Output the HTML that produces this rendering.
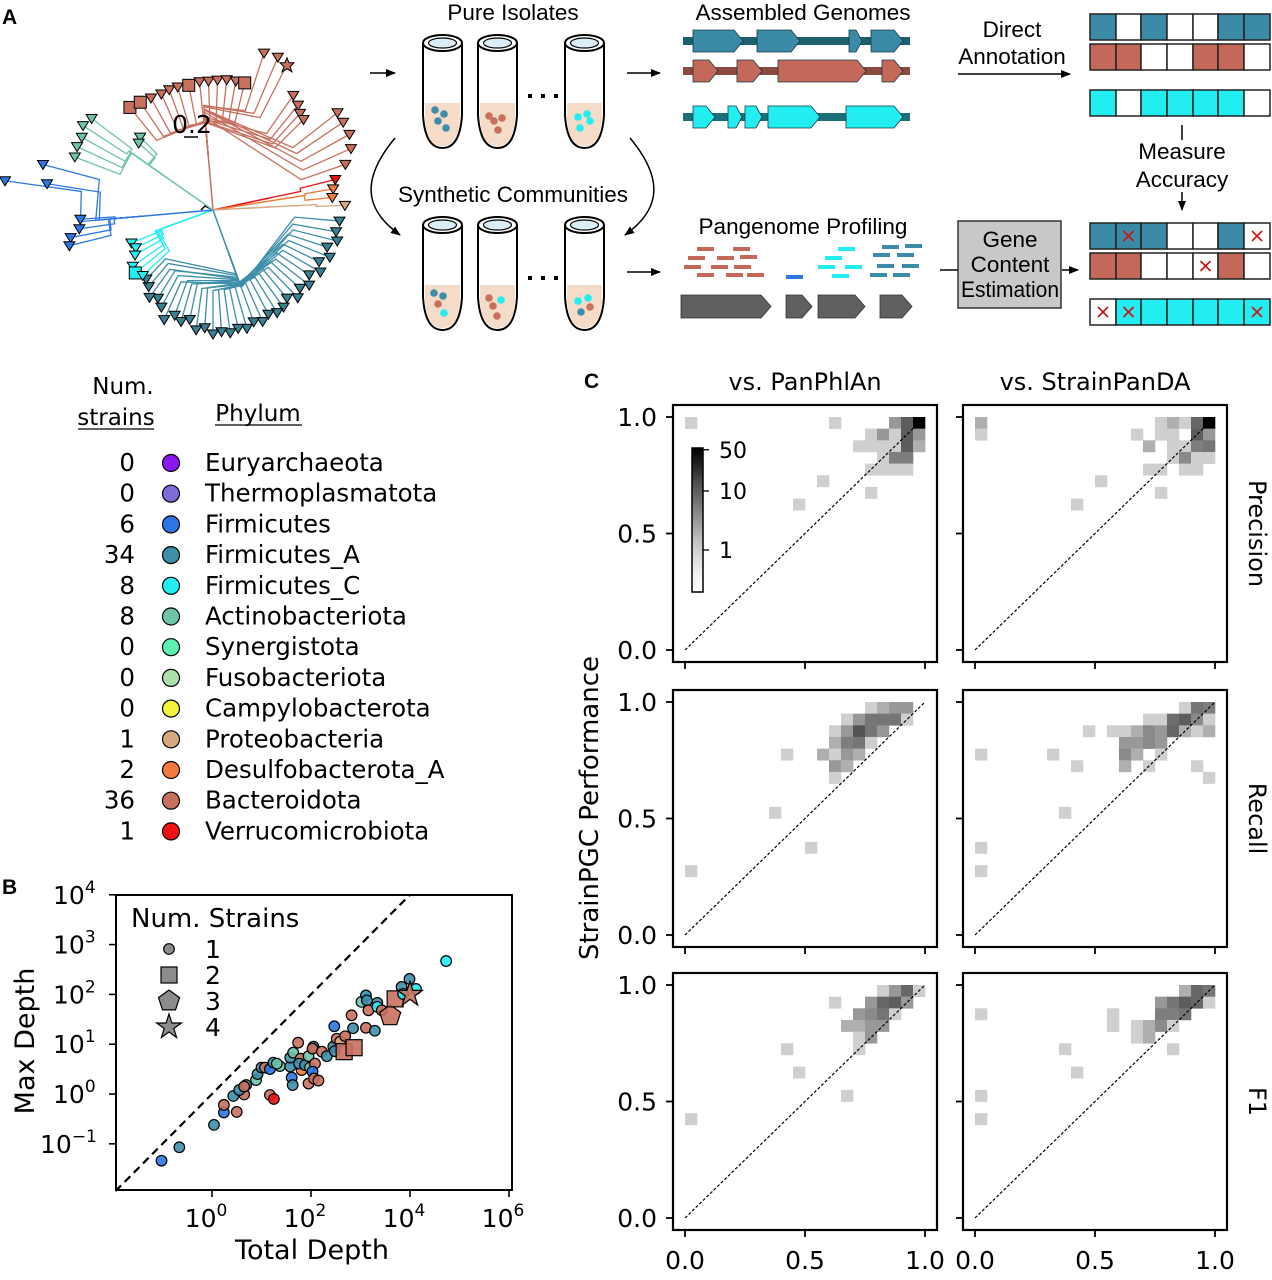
<!DOCTYPE html>
<html><head><meta charset="utf-8">
<style>
html,body{margin:0;padding:0;background:#fff;}
svg{display:block;}
.sa{font-family:"Liberation Sans",sans-serif;}
.dv{font-family:"DejaVu Sans","Liberation Sans",sans-serif;}
</style></head>
<body>
<svg id="fig" width="1272" height="1280" viewBox="0 0 1272 1280" xmlns="http://www.w3.org/2000/svg">
<defs>
<marker id="ah" markerWidth="10" markerHeight="8" refX="9" refY="4" orient="auto" markerUnits="userSpaceOnUse"><path d="M0,0 L10,4 L0,8 Z" fill="#000"/></marker>
<linearGradient id="cbg" x1="0" y1="1" x2="0" y2="0">
<stop offset="0" stop-color="#ffffff"/><stop offset="0.125" stop-color="#f0f0f0"/><stop offset="0.25" stop-color="#d9d9d9"/><stop offset="0.375" stop-color="#bdbdbd"/><stop offset="0.5" stop-color="#969696"/><stop offset="0.625" stop-color="#737373"/><stop offset="0.75" stop-color="#525252"/><stop offset="0.875" stop-color="#252525"/><stop offset="1" stop-color="#000000"/>
</linearGradient>
</defs>

<text x="2" y="24" class="sa" font-size="21" font-weight="bold">A</text>
<text x="2" y="894" class="sa" font-size="21" font-weight="bold">B</text>
<text x="584" y="388" class="sa" font-size="21" font-weight="bold">C</text>

<g id="tree"></g>
<g>
<text x="192" y="133" class="dv" font-size="25" text-anchor="middle">0.2</text>
<line x1="184" y1="137" x2="198" y2="137" stroke="#000" stroke-width="1.5"/>
</g>

<g class="sa" font-size="22.5">
<text x="513" y="20" text-anchor="middle">Pure Isolates</text>
<text x="513" y="202" text-anchor="middle">Synthetic Communities</text>
<text x="803" y="20" text-anchor="middle">Assembled Genomes</text>
<text x="803" y="234" text-anchor="middle">Pangenome Profiling</text>
<text x="1012" y="37" text-anchor="middle">Direct</text>
<text x="1012" y="64" text-anchor="middle">Annotation</text>
<text x="1182" y="159" text-anchor="middle">Measure</text>
<text x="1182" y="187" text-anchor="middle">Accuracy</text>
<line x1="370" y1="73" x2="395" y2="73" stroke="#000" stroke-width="1.5" marker-end="url(#ah)"/>
<line x1="627" y1="73" x2="660" y2="73" stroke="#000" stroke-width="1.5" marker-end="url(#ah)"/>
<line x1="627" y1="272" x2="660" y2="272" stroke="#000" stroke-width="1.5" marker-end="url(#ah)"/>
<line x1="958" y1="74" x2="1070" y2="74" stroke="#000" stroke-width="1.5" marker-end="url(#ah)"/>
<line x1="1182" y1="125" x2="1182" y2="140" stroke="#000" stroke-width="1.5"/>
<line x1="1182" y1="192" x2="1182" y2="210" stroke="#000" stroke-width="1.5" marker-end="url(#ah)"/>
<line x1="1062" y1="270" x2="1078" y2="270" stroke="#000" stroke-width="1.5" marker-end="url(#ah)"/>
<line x1="940" y1="270" x2="958" y2="270" stroke="#000" stroke-width="1.5"/>
<path d="M395,138 C360,180 365,210 400,235" fill="none" stroke="#000" stroke-width="1.5" marker-end="url(#ah)"/>
<path d="M630,138 C665,180 660,210 625,235" fill="none" stroke="#000" stroke-width="1.5" marker-end="url(#ah)"/>
<rect x="958" y="221" width="103" height="87" fill="#c8c8c8" stroke="#333" stroke-width="1.5"/>
<text x="1010" y="247" text-anchor="middle">Gene</text>
<text x="1010" y="272" text-anchor="middle">Content</text>
<text x="1010" y="297" text-anchor="middle" textLength="98" lengthAdjust="spacingAndGlyphs">Estimation</text>
</g>
<g id="schem"></g>

<g id="legend" class="dv">
<text x="123" y="394" font-size="23" text-anchor="middle">Num.</text>
<text x="116" y="425" font-size="23" text-anchor="middle">strains</text>
<line x1="78" y1="429" x2="154" y2="429" stroke="#000" stroke-width="1.2"/>
<text x="258" y="421" font-size="23" text-anchor="middle">Phylum</text>
<line x1="215" y1="425" x2="302" y2="425" stroke="#000" stroke-width="1.2"/>
</g>

<g id="panelB" class="dv"></g>
<g id="panelC" class="dv"></g>
</svg>

<script>
const NS="http://www.w3.org/2000/svg";
function mk(parent,tag,attrs,text){const e=document.createElementNS(NS,tag);for(const k in attrs)e.setAttribute(k,attrs[k]);if(text!==undefined)e.textContent=text;parent.appendChild(e);return e;}

const phylumNames=["Euryarchaeota","Thermoplasmatota","Firmicutes","Firmicutes_A","Firmicutes_C","Actinobacteriota","Synergistota","Fusobacteriota","Campylobacterota","Proteobacteria","Desulfobacterota_A","Bacteroidota","Verrucomicrobiota"];
const phylumCounts=[0,0,6,34,8,8,0,0,0,1,2,36,1];
const phylumColors=["#8a18f0","#7c6cd8","#2e76e6","#3d8ea8","#22eef2","#6ec3a8","#5ef0b0","#aee0ae","#f2f23a","#d6a880","#f27a3c","#c8705e","#f01212"];
(function(){
const g=document.getElementById('legend');
for(let i=0;i<phylumNames.length;i++){
 const y=463+30.7*i;
 const row=mk(g,'g',{});
 
 
 mk(row,'text',{x:135,y:y+8,'font-size':24.5,'text-anchor':'end'},String(phylumCounts[i]));
 mk(row,'circle',{cx:171,cy:y,r:8.5,fill:phylumColors[i],stroke:'#000','stroke-width':1.2});
 mk(row,'text',{x:205,y:y+8,'font-size':24.5},phylumNames[i]);
}
})();

const treeCenter=[213,210];
const treeClades=[
 {c:"#c8705e",node:[-95,55],leaves:[[-129,132],[-124,130],[-119,128],[-114,127],[-110,128],[-106,128],[-101,127],[-96,129],[-92,129],[-88,130],[-84,131],[-80,131],[-76,131],[-72,165],[-67,166],[-63,163],[-55,140],[-51,135],[-48,130],[-45,128],[-38,158],[-34,157],[-29,156],[-24,151],[-19,140]],sh:{0:'sq',1:'sq',6:'sq',12:'sq',15:'star'}},
 {c:"#e81010",node:[-12,60],leaves:[[-14,126]]},
 {c:"#f07a3c",node:[-9,70],leaves:[[-10,122],[-6,120]]},
 {c:"#d6a880",node:[-3,80],leaves:[[-2,132]]},
 {c:"#3d8ea8",node:[70,45],leaves:[[5,127],[10,125],[14,128],[18,120],[22,126],[26,118],[30,124],[34,116],[38,122],[42,117],[46,122],[50,115],[54,120],[58,121],[62,118],[66,122],[70,119],[74,123],[78,121],[82,124],[86,122],[90,124],[94,118],[98,121],[102,112],[106,116],[110,112],[114,120],[118,110],[122,104],[126,108],[130,100],[134,96]]},
 {c:"#22eef2",node:[160,30],leaves:[[158,88],[154,86],[150,90],[145,98],[141,100],[137,96]],sh:{4:'sq'}},
 {c:"#2e76e6",node:[175,70],leaves:[[-172,210],[-165,176],[-171,168],[176,133],[172,135],[169,145],[166,148]]},
 {c:"#6ec3a8",node:[-145,60],leaves:[[-143,152],[-147,155],[-151,150],[-155,150],[-159,148],[-135,103],[-138,100]]}
];
(function(){
const g=document.getElementById('tree');const [cx,cy]=treeCenter;const rad=Math.PI/180;
mk(g,'path',{d:`M${cx},${cy} l-8,-4 l-4,4`,stroke:'#000',fill:'none','stroke-width':1.5});
treeClades.forEach(cl=>{
 const na=cl.node[0]*rad, nr=cl.node[1];
 const nx=cx+nr*Math.cos(na), ny=cy+nr*Math.sin(na);
 mk(g,'line',{x1:cx,y1:cy,x2:nx,y2:ny,stroke:cl.c,'stroke-width':1.5});
 cl.leaves.forEach((lf,k)=>{
  const a=lf[0]*rad, r=lf[1];
  const mr=nr+(r-nr)*0.45;
  const mx=cx+mr*Math.cos(na), my=cy+mr*Math.sin(na);
  const lx=cx+r*Math.cos(a), ly=cy+r*Math.sin(a);
  const jx=cx+mr*Math.cos(a), jy=cy+mr*Math.sin(a);
  mk(g,'polyline',{points:`${nx},${ny} ${mx},${my} ${jx},${jy} ${lx},${ly}`,fill:'none',stroke:cl.c,'stroke-width':1.3});
  const s=(cl.sh&&cl.sh[k])||'tri';
  const mc = cl.c==="#3d8ea8"?"#3a8090":cl.c;
  let m;
  if(s==='sq') m=mk(g,'rect',{x:lx-6,y:ly-6,width:12,height:12,fill:mc,stroke:'#000','stroke-width':1});
  else if(s==='star') m=mk(g,'path',{d:`M${lx},${ly-7} L${lx+2},${ly-2} L${lx+7},${ly-2} L${lx+3},${ly+2} L${lx+5},${ly+7} L${lx},${ly+4} L${lx-5},${ly+7} L${lx-3},${ly+2} L${lx-7},${ly-2} L${lx-2},${ly-2}Z`,fill:mc,stroke:'#000','stroke-width':1});
  else m=mk(g,'path',{d:`M${lx-5.5},${ly-4} L${lx+5.5},${ly-4} L${lx},${ly+5} Z`,fill:mc,stroke:'#000','stroke-width':1});
  
  
 });
});
})();

(function(){
const g=document.getElementById('schem');
const tubeX=[423,478,565];
const tubeDots=[
 [["#3d8ea8",435,110],["#3d8ea8",444,114],["#3d8ea8",438,121],["#3d8ea8",446,128]],
 [["#c8705e",489,116],["#c8705e",502,118],["#c8705e",494,121],["#c8705e",498,130]],
 [["#22eef2",578,117],["#22eef2",587,114],["#22eef2",590,121],["#22eef2",580,128]]];
const tubeDots2=[
 [["#3d8ea8",434,293],["#3d8ea8",443,296],["#c8705e",438,304],["#22eef2",444,313]],
 [["#c8705e",489,298],["#22eef2",501,300],["#c8705e",493,306],["#c8705e",497,316]],
 [["#22eef2",578,301],["#22eef2",588,298],["#c8705e",590,307],["#3d8ea8",581,312]]];
[[35,tubeDots],[217,tubeDots2]].forEach(([top,dots],row)=>{
 tubeX.forEach((x0,i)=>{
  const x1=x0+39, xc=x0+19.5, bot=top+113;
  const t=mk(g,'g',{});
  
  
  mk(t,'path',{d:`M${x0+2},${top+68} L${x1-2},${top+68} L${x1-2},${top+82} Q${x1-3},${bot-2} ${xc},${bot-2} Q${x0+3},${bot-2} ${x0+2},${top+82}Z`,fill:'#f5dcc8'});
  mk(t,'path',{d:`M${x0},${top+8} L${x0},${top+80} Q${x0+2},${bot} ${xc},${bot} Q${x1-2},${bot} ${x1},${top+80} L${x1},${top+8}`,fill:'none',stroke:'#000','stroke-width':2});
  mk(t,'ellipse',{cx:xc,cy:top+8,rx:19.5,ry:8,fill:'#fff',stroke:'#000','stroke-width':2});
  mk(t,'ellipse',{cx:xc,cy:top+8,rx:14,ry:5,fill:'#dbeef8',stroke:'#000','stroke-width':1.2});
  dots[i].forEach(d=>mk(t,'circle',{cx:d[1],cy:d[2],r:3.8,fill:d[0]}));
 });
 [530,543,556].forEach(x=>mk(g,'rect',{x:x-2,y:top+59,width:4,height:4,fill:'#000'}));
});
const tracks=[
 {y:41,fill:"#3a8aa8",line:"#1e5f70",genes:[[693,743],[757,800],[849,862],[871,903]]},
 {y:71,fill:"#c4685a",line:"#8a4a40",genes:[[693,718],[737,762],[778,866],[882,903]]},
 {y:117,fill:"#22eef2",line:"#1a6f7a",genes:[[693,715],[728,742],[745,762],[768,820],[846,903]]}];
tracks.forEach(tr=>{
 const tg=mk(g,'g',{});
 
 
 mk(tg,'rect',{x:683,y:tr.y-4,width:227,height:8,fill:tr.line});
 tr.genes.forEach(([a,b])=>{const h=b-a>20?9:6;mk(tg,'path',{d:`M${a},${tr.y-11} L${b-h},${tr.y-11} L${b},${tr.y} L${b-h},${tr.y+11} L${a},${tr.y+11}Z`,fill:tr.fill,stroke:'#1a3a40','stroke-width':0.8});});
});
const reads=[["#c4685a",[[697,249],[733,249],[688,258],[717,258],[740,257],[684,267],[711,267],[734,267],[697,275],[726,275],[747,275]]],
 ["#2e76e6",[[786,277]]],["#22eef2",[[838,249],[825,258],[818,267],[845,267],[832,276]]],
 ["#3a8aa8",[[882,247],[905,246],[873,255],[897,255],[877,266],[902,266],[870,275],[893,275]]]];
reads.forEach(([c,list])=>list.forEach(([x,y])=>mk(g,'rect',{x:x,y:y-2,width:17,height:4,fill:c})));
[[681,771],[786,812],[818,865],[880,912]].forEach(([a,b])=>mk(g,'path',{d:`M${a},295 L${b-10},295 L${b},306.5 L${b-10},318 L${a},318Z`,fill:'#606060',stroke:'#333','stroke-width':0.8}));
const colsX=[1090,1116,1141,1167,1193,1218,1244,1270];
const boxRows=[
 {y:14,c:"#3a8aa8",p:[1,0,1,0,0,1,1],x:[]},
 {y:44,c:"#c4685a",p:[1,1,0,0,1,1,0],x:[]},
 {y:90,c:"#22eef2",p:[1,0,1,1,1,1,0],x:[]},
 {y:223,c:"#3a8aa8",p:[1,1,1,0,0,1,0],x:[1,6]},
 {y:253,c:"#c4685a",p:[1,1,0,0,0,1,0],x:[4]},
 {y:299,c:"#22eef2",p:[0,1,1,1,1,1,1],x:[0,1,6]}];
boxRows.forEach(r=>{
 const rg=mk(g,'g',{});
 
 
 r.p.forEach((v,i)=>{
  mk(rg,'rect',{x:colsX[i],y:r.y,width:colsX[i+1]-colsX[i],height:26,fill:v?r.c:'#fff',stroke:'#222','stroke-width':1.5});
 });
 r.x.forEach(i=>{const cx=(colsX[i]+colsX[i+1])/2,cy=r.y+13;mk(rg,'path',{d:`M${cx-5},${cy-5} L${cx+5},${cy+5} M${cx+5},${cy-5} L${cx-5},${cy+5}`,stroke:'#d01010','stroke-width':1.6});});
});
})();

// ---------------- Panel B ----------------
const logTotal=[-1.02,-0.66,0.04,0.24,0.24,0.50,0.43,0.65,0.55,0.69,0.65,0.89,0.92,1.00,1.07,1.17,1.17,1.25,1.24,1.37,1.31,1.58,1.61,1.63,1.58,1.64,1.74,1.81,1.79,1.76,1.88,1.95,1.98,2.05,2.03,2.08,2.03,1.95,2.06,2.15,2.22,2.32,2.47,2.45,2.48,2.52,2.59,2.69,2.67,2.87,2.85,2.82,3.02,3.11,3.13,3.16,3.11,3.29,3.34,3.34,3.43,3.60,3.70,3.83,3.99,3.86,4.12,4.00,4.73];
const logMax=[-1.34,-1.07,-0.62,-0.37,-0.22,-0.36,-0.04,-0.01,0.08,0.18,0.15,0.28,0.40,0.53,0.53,0.50,-0.02,-0.10,0.63,0.56,0.61,0.55,0.33,0.18,0.73,0.83,1.03,0.48,0.71,0.61,0.58,0.76,0.53,0.95,0.91,0.61,0.45,0.21,0.31,0.27,0.85,0.76,1.36,0.95,0.86,1.11,1.05,1.16,0.85,0.93,1.32,1.58,1.85,1.98,1.88,1.68,1.33,1.27,1.83,1.75,1.68,1.57,1.91,2.15,2.31,2.01,2.11,2.00,2.67];
const pointPhylum=[2,3,3,2,11,11,3,11,3,3,11,5,3,3,11,2,11,12,3,5,5,3,2,3,3,5,11,10,11,3,3,5,5,3,11,11,2,11,11,11,11,3,2,3,3,11,9,11,11,11,3,11,5,3,3,11,11,3,3,4,11,11,11,3,3,4,4,11,4];
const pointStrains=[1,1,1,1,1,1,1,1,1,1,1,1,1,1,1,1,1,1,1,1,1,1,1,1,1,1,1,1,1,1,1,1,1,1,1,1,1,1,1,1,1,1,1,1,1,1,1,1,2,2,1,1,1,1,1,1,1,1,1,1,1,3,2,1,1,1,1,4,1];
const bXTicks=[0,2,4,6];
const bYTicks=[-1,0,1,2,3,4];
(function(){
const g=document.getElementById('panelB');
const X=v=>212+49.5*v, Y=v=>1094-49.8*v;
const L=116,R=512,T=895,B=1190;
mk(g,'rect',{x:L,y:T,width:R-L,height:B-T,fill:'none',stroke:'#000','stroke-width':2});
const diag=mk(g,'line',{x1:X(-1.95),y1:Y(-1.95),x2:X(4.0),y2:Y(4.0),stroke:'#000','stroke-width':2.2,'stroke-dasharray':'8,5'});


bXTicks.forEach(t=>{
 mk(g,'line',{x1:X(t),y1:B,x2:X(t),y2:B+7,stroke:'#000','stroke-width':1.6});
 const tx=mk(g,'text',{x:X(t)-6,y:B+37,'font-size':25,'text-anchor':'middle'});
 
 
 mk(tx,'tspan',{},'10');mk(tx,'tspan',{dy:-11,'font-size':17},String(t));
});
bYTicks.forEach(t=>{
 mk(g,'line',{x1:L-7,y1:Y(t),x2:L,y2:Y(t),stroke:'#000','stroke-width':1.6});
 const tx=mk(g,'text',{x:t<0?40:53,y:Y(t)+9,'font-size':25});
 
 
 mk(tx,'tspan',{},'10');mk(tx,'tspan',{dy:-11,'font-size':17},t<0?'\u2212'+Math.abs(t):String(t));
});
const xt=mk(g,'text',{x:312,y:1259,'font-size':27,'text-anchor':'middle'},'Total Depth');


const yt=mk(g,'text',{x:0,y:0,'font-size':27,'text-anchor':'middle',transform:'translate(34,1041) rotate(-90)'},'Max Depth');


function shape(par,n,x,y,fill){
 let e;
 if(n===1) e=mk(par,'circle',{cx:x,cy:y,r:5.3,fill:fill,stroke:'#000','stroke-width':1.2,'fill-opacity':0.9});
 else if(n===2) e=mk(par,'rect',{x:x-8,y:y-8,width:16,height:16,fill:fill,stroke:'#000','stroke-width':1.2,'fill-opacity':0.9});
 else if(n===3){let p=[];for(let k=0;k<5;k++){const a=-Math.PI/2+k*2*Math.PI/5;p.push((x+11*Math.cos(a)).toFixed(1)+','+(y+11*Math.sin(a)).toFixed(1));}e=mk(par,'polygon',{points:p.join(' '),fill:fill,stroke:'#000','stroke-width':1.2,'fill-opacity':0.9});}
 else {let p=[];for(let k=0;k<10;k++){const a=-Math.PI/2+k*Math.PI/5,r=k%2?5:13;p.push((x+r*Math.cos(a)).toFixed(1)+','+(y+r*Math.sin(a)).toFixed(1));}e=mk(par,'polygon',{points:p.join(' '),fill:fill,stroke:'#000','stroke-width':1.2,'fill-opacity':0.9});}
 return e;
}
const pg=mk(g,'g',{});


for(let i=0;i<logTotal.length;i++){
 const e=shape(pg,pointStrains[i],X(logTotal[i]),Y(logMax[i]),phylumColors[pointPhylum[i]]);
 
 
}
const lg=mk(g,'g',{});


mk(lg,'text',{x:131,y:927,'font-size':26},'Num. Strains');
[1,2,3,4].forEach((n,k)=>{const y=949+26*k;shape(lg,n,169,y,'#808080');mk(lg,'text',{x:205,y:y+9,'font-size':25},String(n));});
})();

// ---------------- Panel C ----------------
const binWidth=0.05;
const precPanPhlAn=[[0,19,1],[12,19,1],[17,19,3],[18,19,10],[19,19,50],[15,18,1],[16,18,3],[17,18,1],[18,18,10],[19,18,3],[14,17,1],[15,17,1],[16,17,1],[17,17,1],[18,17,10],[19,17,2],[16,16,1],[17,16,5],[18,16,5],[15,15,1],[16,15,1],[17,15,1],[18,15,1],[11,14,1],[15,13,1],[9,12,1]];
const precStrainPanDA=[[0,19,2],[15,19,1],[16,19,2],[17,19,1],[18,19,8],[19,19,50],[0,18,1],[13,18,1],[15,18,1],[16,18,1],[18,18,10],[19,18,3],[14,17,2],[16,17,1],[17,17,1],[18,17,5],[19,17,6],[16,16,1],[17,16,4],[18,16,1],[19,16,1],[14,15,1],[15,15,1],[17,15,1],[18,15,1],[10,14,1],[15,13,1],[8,12,1]];
const recPanPhlAn=[[15,19,1],[16,19,2],[17,19,3],[18,19,3],[13,18,1],[14,18,3],[15,18,6],[16,18,6],[17,18,6],[18,18,1],[12,17,1],[13,17,3],[14,17,12],[15,17,6],[16,17,3],[12,16,2],[13,16,5],[14,16,6],[15,16,1],[8,15,1],[11,15,2],[12,15,1],[13,15,3],[14,15,2],[12,14,3],[13,14,2],[12,13,1],[7,10,1],[10,7,1],[0,5,1]];
const recStrainPanDA=[[17,19,1],[18,19,6],[19,19,5],[14,18,1],[15,18,1],[16,18,7],[17,18,10],[18,18,4],[19,18,1],[9,17,1],[11,17,1],[12,17,1],[13,17,2],[14,17,4],[15,17,3],[16,17,8],[17,17,2],[18,17,1],[19,17,2],[12,16,3],[13,16,3],[14,16,4],[15,16,3],[0,15,1],[6,15,1],[12,15,4],[13,15,2],[15,15,1],[8,14,1],[12,14,2],[14,14,1],[18,14,1],[19,13,1],[7,10,1],[0,7,1],[0,5,1]];
const f1PanPhlAn=[[16,19,1],[17,19,3],[18,19,8],[19,19,1],[12,18,1],[15,18,3],[16,18,8],[17,18,10],[18,18,3],[14,17,3],[15,17,4],[16,17,6],[17,17,1],[13,16,2],[14,16,2],[15,16,3],[16,16,3],[14,15,1],[15,15,3],[8,14,1],[14,14,1],[9,12,1],[13,10,1],[0,8,1]];
const f1StrainPanDA=[[17,19,2],[18,19,8],[19,19,6],[15,18,3],[16,18,6],[17,18,10],[18,18,8],[19,18,1],[0,17,1],[11,17,1],[15,17,5],[16,17,5],[17,17,6],[11,16,1],[13,16,1],[14,16,2],[15,16,4],[16,16,1],[13,15,1],[14,15,2],[7,14,1],[16,14,1],[8,12,1],[0,10,1],[0,8,1]];
const axisTickValues=[0.0,0.5,1.0];
const axisTickLabels=["0.0","0.5","1.0"];
const colLabels=["vs. PanPhlAn","vs. StrainPanDA"];
const rowLabels=["Precision","Recall","F1"];
const cbTicks=[1,10,50];
(function(){
const g=document.getElementById('panelC');
const greys=[[255,255,255],[240,240,240],[217,217,217],[189,189,189],[150,150,150],[115,115,115],[82,82,82],[37,37,37],[0,0,0]];
function colorFor(c){let t=(Math.log10(c)+0.71)/2.41;t=Math.max(0,Math.min(1,t));const p=t*8,i=Math.min(7,Math.floor(p)),f=p-i;const a=greys[i],b=greys[i+1];return 'rgb('+a.map((v,k)=>Math.round(v+(b[k]-v)*f)).join(',')+')';}
const cols=[{L:673,R:937,x0:685,x1:925},{L:963,R:1227,x0:975,x1:1215}];
const rows=[{T:405,B:662,y0:650,y1:417},{T:690,B:947,y0:935,y1:702},{T:973,B:1230,y0:1218,y1:985}];
const data=[[precPanPhlAn,precStrainPanDA],[recPanPhlAn,recStrainPanDA],[f1PanPhlAn,f1StrainPanDA]];
const names=[["precision-vs-panphlan","precision-vs-strainpanda"],["recall-vs-panphlan","recall-vs-strainpanda"],["f1-vs-panphlan","f1-vs-strainpanda"]];
rows.forEach((r,ri)=>cols.forEach((c,ci)=>{
 const X=v=>c.x0+(c.x1-c.x0)*v, Y=v=>r.y0+(r.y1-r.y0)*v;
 const pg=mk(g,'g',{});
 
 
 data[ri][ci].forEach(([i,j,n])=>{
  const xa=X(i*binWidth),xb=X((i+1)*binWidth),ya=Y((j+1)*binWidth),yb=Y(j*binWidth);
  const cell=mk(pg,'rect',{x:xa.toFixed(2),y:ya.toFixed(2),width:(xb-xa+0.3).toFixed(2),height:(yb-ya+0.3).toFixed(2),fill:colorFor(n)});
  
  
 });
 mk(pg,'line',{x1:X(0),y1:Y(0),x2:X(1),y2:Y(1),stroke:'#000','stroke-width':1.2,'stroke-dasharray':'3,2'});
 mk(pg,'rect',{x:c.L,y:r.T,width:c.R-c.L,height:r.B-r.T,fill:'none',stroke:'#000','stroke-width':2.2});
 axisTickValues.forEach((t,k)=>{
  mk(pg,'line',{x1:c.L-7,y1:Y(t),x2:c.L,y2:Y(t),stroke:'#000','stroke-width':1.8});
  mk(pg,'line',{x1:X(t),y1:r.B,x2:X(t),y2:r.B+7,stroke:'#000','stroke-width':1.8});
  if(ci===0){const tl=mk(pg,'text',{x:657,y:Y(t)+9,'font-size':25,'text-anchor':'end'},axisTickLabels[k]);}
  if(ri===2){const tl=mk(pg,'text',{x:X(t),y:1269,'font-size':25,'text-anchor':'middle'},axisTickLabels[k]);}
 });
}));
colLabels.forEach((t,ci)=>{const e=mk(g,'text',{x:(cols[ci].L+cols[ci].R)/2,y:390,'font-size':24,'text-anchor':'middle'},t);});
rowLabels.forEach((t,ri)=>{const cy=(rows[ri].T+rows[ri].B)/2;const e=mk(g,'text',{x:0,y:0,'font-size':24,'text-anchor':'middle',transform:`translate(1249,${cy}) rotate(90)`},t);});
const yl=mk(g,'text',{x:0,y:0,'font-size':26,'text-anchor':'middle',transform:'translate(598,808) rotate(-90)'},'StrainPGC Performance');


const cb=mk(g,'g',{});


const cbTop=448,cbPerDec=59,cbBot=592;
mk(cb,'rect',{x:692,y:cbTop,width:11,height:cbBot-cbTop,fill:'url(#cbg)',stroke:'#000','stroke-width':1.5});
cbTicks.forEach(t=>{const y=550-cbPerDec*Math.log10(t);mk(cb,'line',{x1:703,y1:y,x2:709,y2:y,stroke:'#000','stroke-width':1.3});mk(cb,'text',{x:719,y:y+8,'font-size':22},String(t));});
})();
</script>
</body></html>
